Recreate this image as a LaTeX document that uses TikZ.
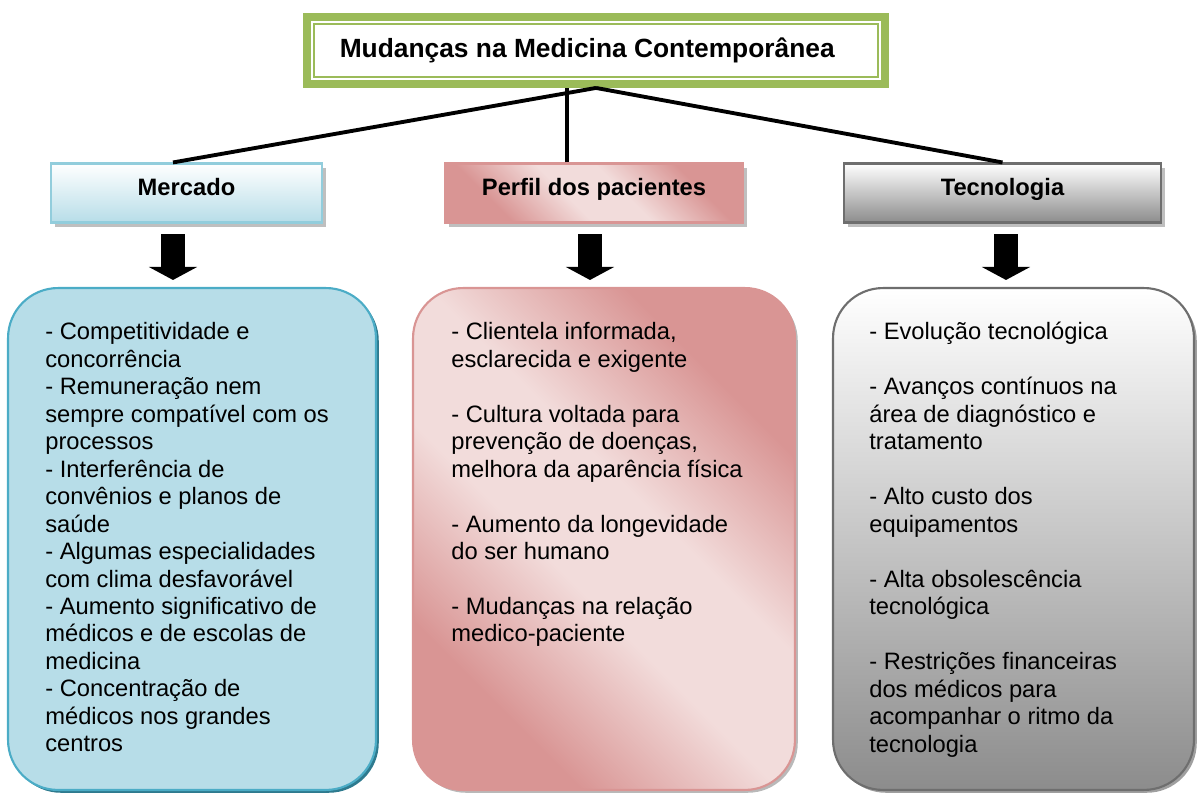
\documentclass[tikz,border=0pt]{standalone}
\usepackage{fontspec}
\setmainfont{Liberation Sans}
\usetikzlibrary{positioning,shadows,arrows.meta}
\definecolor{titlegreen}{HTML}{9BBB59}
\definecolor{mercadoline}{HTML}{92CDDC}
\definecolor{mercadofill}{HTML}{B7DDE8}
\definecolor{mercadoedge}{HTML}{4BACC6}
\definecolor{mercadoshade}{HTML}{2E7A8E}
\definecolor{perfildark}{HTML}{D99594}
\definecolor{perfillight}{HTML}{F2DCDB}
\definecolor{tecgray}{HTML}{8C8C8C}
\definecolor{tecedge}{HTML}{6E6E6E}
\pgfdeclareverticalshading{perfilshade}{100bp}{color(0bp)=(perfildark); color(28bp)=(perfildark); color(44bp)=(perfillight); color(56bp)=(perfillight); color(72bp)=(perfildark); color(100bp)=(perfildark)}

\begin{document}
\begin{tikzpicture}[x=0.02cm,y=-0.02cm,
  titlebox/.style={draw=titlegreen,line width=4.5pt,fill=white,minimum width=11.56cm,minimum height=1.34cm,font=\fontsize{15}{18}\selectfont\bfseries},
  headbox/.style={draw,line width=1.2pt,minimum height=1.18cm,text depth=6.5pt,font=\fontsize{13.5}{16}\selectfont\bfseries,drop shadow={shadow xshift=2.5pt,shadow yshift=-2.8pt,fill=gray!50,opacity=1}},
  panel/.style={line width=1.2pt,rounded corners=1cm,minimum height=10.04cm},
  pinkfill/.style={shading=perfilshade,shading angle=-45},
  items/.style={anchor=north west,inner sep=0pt,align=left,font=\fontsize{13.5}{15.65}\selectfont},
  link/.style={line width=2.2pt},
  bigarrow/.style={line width=13.6pt,-{Triangle[width=27.2pt,length=7.4pt]},shorten <=6.2pt,shorten >=4pt}]
\useasboundingbox (0,0) rectangle (1197,794);
%
\node[titlebox](title) at (596,50.5) {\hspace*{-0.35cm}Mudanças na Medicina Contemporânea};
\draw[titlegreen,line width=1.4pt]([shift={(11,11)}]title.north west) rectangle ([shift={(-11,-11)}]title.south east);
%
\node[headbox,draw=mercadoline,minimum width=5.42cm,top color=white,bottom color=mercadofill](mercado) at (186.5,193) {Mercado};
\node[headbox,draw=perfildark,minimum width=5.96cm,pinkfill](perfil) at (594,193) {Perfil dos pacientes};
\node[headbox,draw=tecedge,minimum width=6.34cm,top color=white,bottom color=tecgray](tecnologia) at (1002.5,193) {Tecnologia};
\draw[link](title.south) -- ([xshift=-0.27cm]mercado.north);
\draw[link]([xshift=-0.54cm]perfil.north) -- ([xshift=-0.54cm]perfil.north |- title.south);
\draw[link](title.south) -- (tecnologia.north);
%
\node[panel,draw=mercadoedge,fill=mercadofill,minimum width=7.36cm,drop shadow={shadow xshift=1.6pt,shadow yshift=-1.6pt,fill=mercadoshade,opacity=1}](mbox) at (192,539) {};
\node[panel,draw=perfildark,pinkfill,minimum width=7.64cm,drop shadow={shadow xshift=1.6pt,shadow yshift=-1.6pt,fill=gray!55,opacity=1}](pbox) at (604,539) {};
\node[panel,draw=tecedge,top color=white,bottom color=tecgray,minimum width=7.22cm,drop shadow={shadow xshift=1.6pt,shadow yshift=-1.6pt,fill=gray!75,opacity=1}](tbox) at (1013.5,539) {};
%
\draw[bigarrow]([xshift=-0.27cm]mercado.south) -- ([xshift=-0.27cm]mercado.south |- mbox.north);
\draw[bigarrow]([xshift=-0.08cm]perfil.south) -- ([xshift=-0.08cm]perfil.south |- pbox.north);
\draw[bigarrow]([xshift=0.07cm]tecnologia.south) -- ([xshift=0.07cm]tecnologia.south |- tbox.north);
%
\node[items](mlist) at ([shift={(38,35)}]mbox.north west) {- Competitividade e\\concorrência\\- Remuneração nem\\sempre compatível com os\\processos\\- Interferência de\\convênios e planos de\\saúde\\- Algumas especialidades\\com clima desfavorável\\- Aumento significativo de\\médicos e de escolas de\\medicina\\- Concentração de\\médicos nos grandes\\centros};
\node[items](plist) at ([shift={(39,35)}]pbox.north west) {- Clientela informada,\\esclarecida e exigente\\[15.65pt]- Cultura voltada para\\prevenção de doenças,\\melhora da aparência física\\[15.65pt]- Aumento da longevidade\\do ser humano\\[15.65pt]- Mudanças na relação\\medico-paciente};
\node[items](tlist) at ([shift={(37,35)}]tbox.north west) {- Evolução tecnológica\\[15.65pt]- Avanços contínuos na\\área de diagnóstico e\\tratamento\\[15.65pt]- Alto custo dos\\equipamentos\\[15.65pt]- Alta obsolescência\\tecnológica\\[15.65pt]- Restrições financeiras\\dos médicos para\\acompanhar o ritmo da\\tecnologia};
\end{tikzpicture}
\end{document}
